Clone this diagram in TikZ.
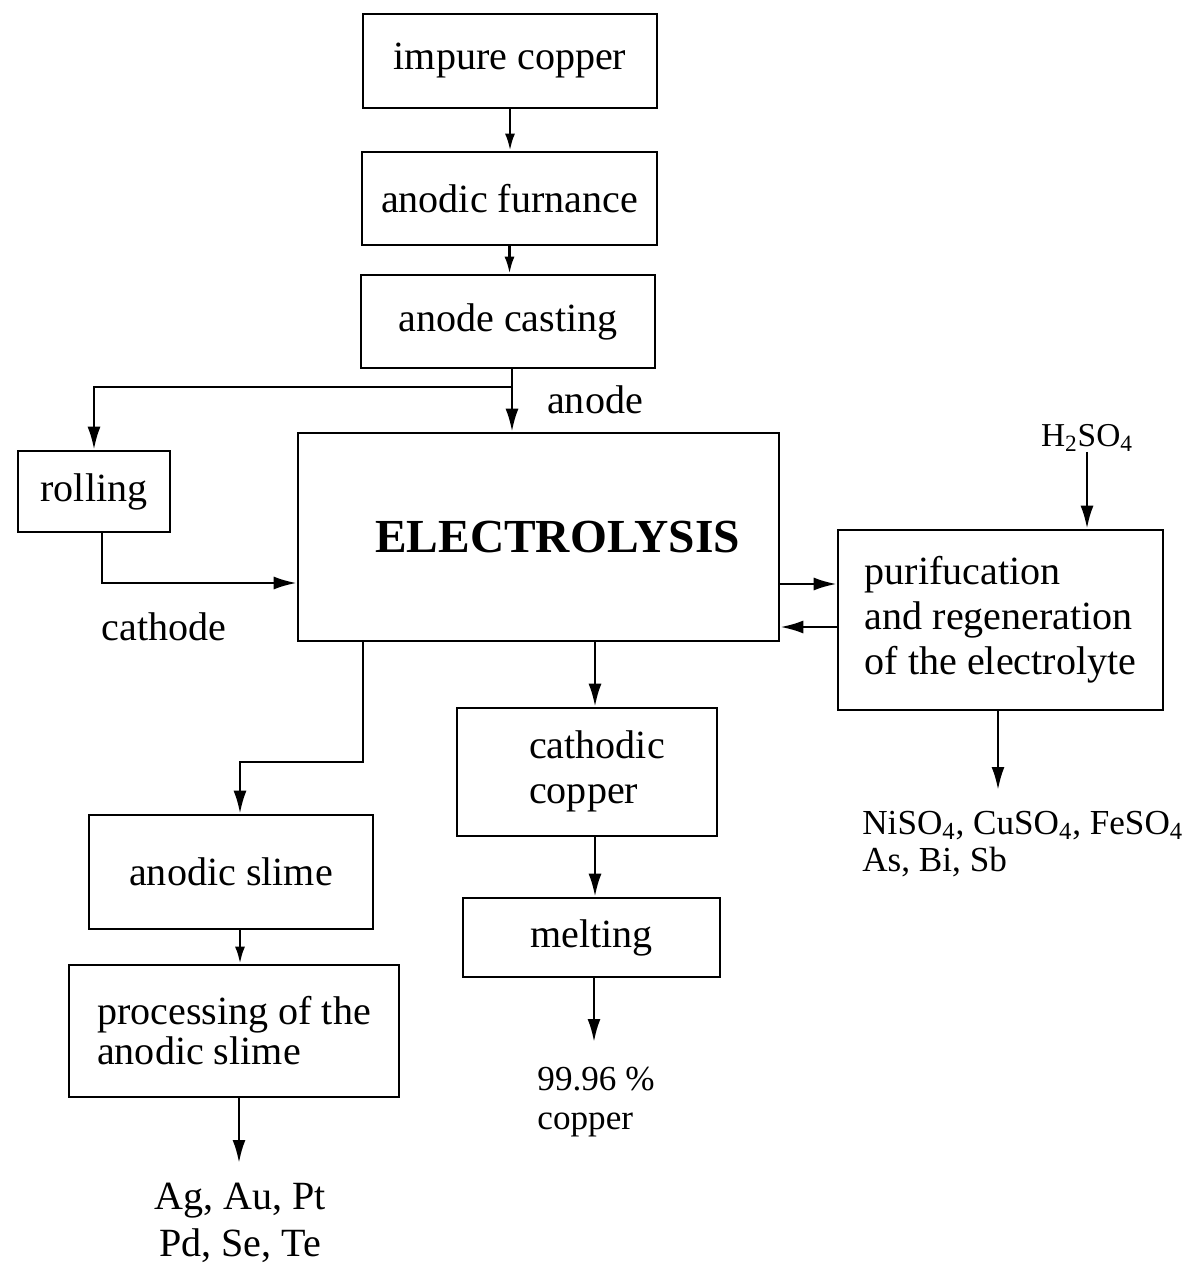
\documentclass[tikz,border=0pt]{standalone}
\usepackage{fontspec}
\setmainfont{Liberation Serif}
\usetikzlibrary{arrows.meta,calc}
\begin{document}
\begin{tikzpicture}[x=0.02cm,y=-0.02cm,
 box/.style={draw, line width=1.5pt, inner sep=0pt, font=\fontsize{22.8}{25.6}\selectfont},
 lbl/.style={inner sep=0pt, font=\fontsize{22.8}{26}\selectfont},
 arr/.style={line width=1.5pt, -{Latex[length=0.46cm,width=0.26cm]}},
 sarr/.style={line width=1.5pt, -{Latex[length=0.34cm,width=0.2cm]}},
 ln/.style={line width=1.5pt}]
\useasboundingbox (0,0) rectangle (1189,1266);

% boxes
\node[box, minimum width=5.88cm, minimum height=1.88cm] (impure) at (510,61) {impure copper};
\node[box, minimum width=5.9cm, minimum height=1.86cm] (furn) at (509.5,198.5) {anodic furnance};
\node[box, minimum width=5.88cm, minimum height=1.86cm] (cast) at (508,321.5) {anode casting};
\node[box, minimum width=3.04cm, minimum height=1.62cm] (roll) at (94,491.5) {rolling};
\node[box, minimum width=9.62cm, minimum height=4.16cm] (elec) at (538.5,537) {\hspace*{0.76cm}\fontsize{27}{30}\selectfont\bfseries ELECTROLYSIS};
\node[box, minimum width=6.5cm, minimum height=3.6cm, align=left] (purif) at (1000.5,620) {purifucation\\and regeneration\\of the electrolyte};
\node[box, minimum width=5.2cm, minimum height=2.56cm] (cath) at (587,772) {\hspace*{0.4cm}\begin{tabular}{@{}l@{}}cathodic\\copper\end{tabular}};
\node[box, minimum width=5.14cm, minimum height=1.58cm] (melt) at (591.5,937.5) {melting};
\node[box, minimum width=5.68cm, minimum height=2.28cm] (slime) at (231,872) {anodic slime};
\node[box, minimum width=6.6cm, minimum height=2.64cm, align=left, font=\fontsize{22.8}{22.8}\selectfont] (proc) at (234,1031) {processing of the\\anodic slime};

% labels
\node[lbl] (anode) at (595,400) {anode};
\node[lbl] (cathode) at (164,627) {cathode};
\node[lbl, font=\fontsize{19}{20}\selectfont] (h2) at (1087,438) {H\textsubscript{2}SO\textsubscript{4}};
\node[lbl, font=\fontsize{20}{21.5}\selectfont, align=left, anchor=west] (nis) at (862,844) {NiSO\textsubscript{4}, CuSO\textsubscript{4}, FeSO\textsubscript{4}\\As, Bi, Sb};
\node[lbl, align=center, font=\fontsize{22.8}{26.7}\selectfont] (ag) at (240,1223) {Ag, Au, Pt\\Pd, Se, Te};
\node[lbl, align=left, font=\fontsize{20}{22}\selectfont] (pure) at (596,1102) {99.96 \%\\copper};

% helper coordinates
\coordinate (br) at (512,387);
\coordinate (y1) at (0,584);
\coordinate (y2) at (0,627);
\coordinate (s1) at (363,762);
\coordinate (cA) at (240,0);
\coordinate (cB) at (595,0);
\coordinate (cR) at (102,0);
\coordinate (yR) at (0,583);
\coordinate (nisend) at (998,790);
\coordinate (pureend) at (594,1042);
\coordinate (agend) at (239,1163);

% connectors
\draw[sarr] (impure.south) -- (impure.south |- furn.north);
\draw[sarr] (furn.south) -- (furn.south |- cast.north);
\draw[arr] (cast.south -| br) -- (elec.north -| br);
\draw[arr] (br) -| (roll.north);
\draw[arr] (roll.south -| cR) |- (elec.west |- yR);
\draw[arr] (elec.east |- y1) -- (purif.west |- y1);
\draw[arr] (purif.west |- y2) -- (elec.east |- y2);
\draw[arr] (h2.south) -- (purif.north -| h2.south);
\draw[arr] (purif.south -| nisend) -- (nisend);
\draw[arr] (elec.south -| s1) -- (s1) -| (slime.north -| cA);
\draw[sarr] (slime.south -| cA) -- (proc.north -| cA);
\draw[arr] (proc.south -| agend) -- (agend);
\draw[arr] (elec.south -| cB) -- (cath.north -| cB);
\draw[arr] (cath.south -| cB) -- (melt.north -| cB);
\draw[arr] (melt.south -| pureend) -- (pureend);
\end{tikzpicture}
\end{document}
